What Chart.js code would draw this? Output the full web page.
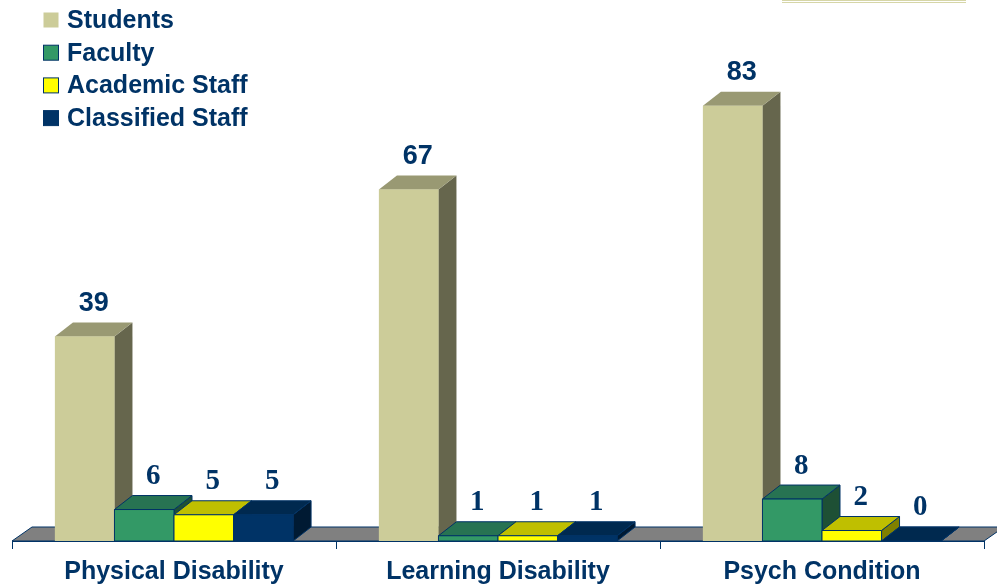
<!DOCTYPE html>
<html>
<head>
<meta charset="utf-8">
<script src="https://cdn.jsdelivr.net/npm/chart.js@4.4.0/dist/chart.umd.min.js"></script>
<style>
  html, body { margin: 0; padding: 0; background: #fff; }
  #wrap { width: 997px; height: 586px; position: relative; }
</style>
</head>
<body>
<div id="wrap"><canvas id="disabilityChart" width="997" height="586"></canvas></div>
<script>
// data
const categories = ['Physical Disability', 'Learning Disability', 'Psych Condition'];
const seriesNames = ['Students', 'Faculty', 'Academic Staff', 'Classified Staff'];
const students = [39, 67, 83];
const faculty = [6, 1, 8];
const academicStaff = [5, 1, 2];
const classifiedStaff = [5, 1, 0];

// front / top / side shades for each series
const frontColors = ['#CCCC99', '#339966', '#FFFF00', '#003366'];
const topColors = ['#999973', '#277352', '#BFBF00', '#00294F'];
const sideColors = ['#66664D', '#1E5035', '#808000', '#001A33'];
const edgeColors = [null, '#003366', '#003366', '#003366'];

const NAVY = '#003366';
const DX = 18, DY = 14;

function poly(ctx, pts, fill, stroke) {
  ctx.beginPath();
  ctx.moveTo(pts[0][0], pts[0][1]);
  for (let i = 1; i < pts.length; i++) ctx.lineTo(pts[i][0], pts[i][1]);
  ctx.closePath();
  ctx.fillStyle = fill;
  ctx.fill();
  if (stroke) {
    ctx.strokeStyle = stroke;
    ctx.lineWidth = 1;
    ctx.stroke();
  }
}

const floorPlugin = {
  id: 'floor3d',
  beforeDatasetsDraw(chart) {
    const ctx = chart.ctx;
    const a = chart.chartArea;
    ctx.save();
    poly(ctx, [[a.left, a.bottom], [a.left + 20, a.bottom - DY], [a.right + 20, a.bottom - DY], [a.right, a.bottom]], '#808080', NAVY);
    ctx.restore();
  }
};

const barsPlugin = {
  id: 'bars3d',
  afterDatasetsDraw(chart) {
    const ctx = chart.ctx;
    ctx.save();
    categories.forEach((cat, i) => {
      chart.data.datasets.forEach((ds, d) => {
        const bar = chart.getDatasetMeta(d).data[i];
        const l = bar.x - bar.width / 2, r = bar.x + bar.width / 2;
        const t = bar.y, b = bar.base;
        const edge = edgeColors[d];
        poly(ctx, [[r, t], [r + DX, t - DY], [r + DX, b - DY], [r, b]], sideColors[d], edge);
        poly(ctx, [[l, t], [l + DX, t - DY], [r + DX, t - DY], [r, t]], topColors[d], edge);
        if (b - t > 0.5) poly(ctx, [[l, t], [r, t], [r, b], [l, b]], frontColors[d], edge);
      });
    });

    // value labels
    ctx.fillStyle = NAVY;
    ctx.textAlign = 'center';
    ctx.textBaseline = 'middle';
    chart.data.datasets.forEach((ds, d) => {
      ctx.font = d === 0 ? 'bold 27px "Liberation Sans", Arial, sans-serif' : 'bold 29px "Liberation Serif", "Times New Roman", serif';
      chart.getDatasetMeta(d).data.forEach((bar, i) => {
        ctx.fillText(String(ds.data[i]), bar.x + DX / 2, bar.y - DY - 19);
      });
    });

    // category labels under the axis
    const xs = chart.scales.x;
    ctx.font = 'bold 25px "Liberation Sans", Arial, sans-serif';
    categories.forEach((cat, i) => {
      ctx.fillText(cat, xs.getPixelForValue(i), 572);
    });
    ctx.restore();
  },
  afterDraw(chart) {
    const ctx = chart.ctx;
    ctx.save();
    // legend
    ctx.font = 'bold 25px "Liberation Sans", Arial, sans-serif';
    ctx.textBaseline = 'middle';
    ctx.textAlign = 'left';
    seriesNames.forEach((name, k) => {
      const cy = 20 + k * 32.7;
      ctx.fillStyle = frontColors[k];
      ctx.fillRect(43.5, cy - 7.5, 15, 15);
      if (edgeColors[k]) {
        ctx.strokeStyle = NAVY;
        ctx.lineWidth = 1;
        ctx.strokeRect(43.5, cy - 7.5, 15, 15);
      }
      ctx.fillStyle = NAVY;
      ctx.fillText(name, 67, cy + 1);
    });
    // thin rule at top right
    ctx.strokeStyle = '#D6D6A8';
    ctx.lineWidth = 1;
    ctx.beginPath();
    ctx.moveTo(782, 0.5); ctx.lineTo(966, 0.5);
    ctx.moveTo(782, 2.5); ctx.lineTo(966, 2.5);
    ctx.stroke();
    ctx.restore();
  }
};

const datasets = [students, faculty, academicStaff, classifiedStaff].map((vals, d) => ({
  label: seriesNames[d],
  data: vals,
  backgroundColor: frontColors[d],
  borderWidth: 0,
  barPercentage: 1,
  categoryPercentage: 0.735
}));

new Chart(document.getElementById('disabilityChart'), {
  type: 'bar',
  data: { labels: categories, datasets: datasets },
  options: {
    responsive: false,
    animation: false,
    layout: { padding: { left: 12, right: 13, top: 16.5, bottom: 37 } },
    plugins: {
      legend: { display: false },
      tooltip: { enabled: false }
    },
    scales: {
      x: {
        grid: {
          offset: true,
          drawOnChartArea: false,
          drawTicks: true,
          tickLength: 8,
          color: NAVY,
          lineWidth: 1
        },
        border: { display: true, color: NAVY, width: 1 },
        ticks: { display: false }
      },
      y: {
        display: false,
        min: 0,
        max: 100
      }
    }
  },
  plugins: [floorPlugin, barsPlugin]
});
</script>
</body>
</html>
